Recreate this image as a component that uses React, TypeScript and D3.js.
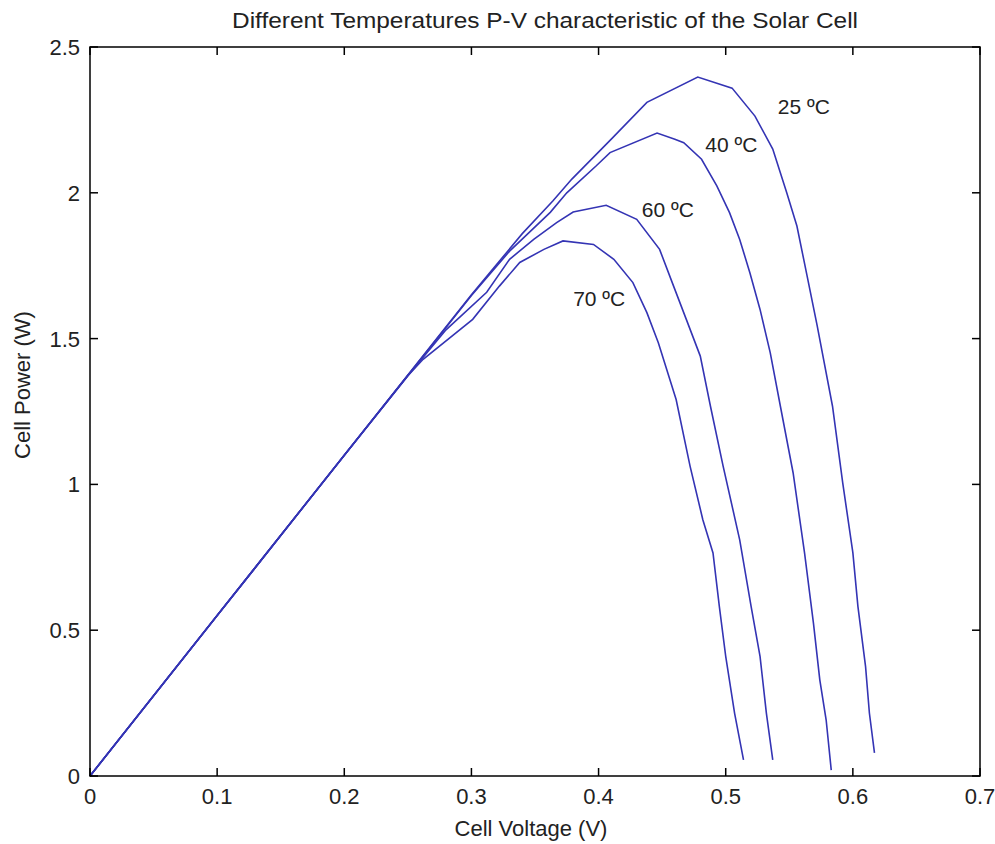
import React from "react";
import * as d3 from "d3";

const xTicks = [0, 0.1, 0.2, 0.3, 0.4, 0.5, 0.6, 0.7];
const yTicks = [0, 0.5, 1, 1.5, 2, 2.5];
const xTickLabels = ["0", "0.1", "0.2", "0.3", "0.4", "0.5", "0.6", "0.7"];
const yTickLabels = ["0", "0.5", "1", "1.5", "2", "2.5"];

const v25 = [0, 0.1, 0.2, 0.3, 0.34, 0.364, 0.379, 0.41, 0.438, 0.478, 0.505, 0.523, 0.537, 0.548, 0.556, 0.564, 0.572, 0.584, 0.592, 0.6, 0.604, 0.61, 0.613, 0.617];
const p25 = [0, 0.55, 1.1, 1.65, 1.86, 1.972, 2.047, 2.184, 2.31, 2.397, 2.359, 2.263, 2.15, 2.0, 1.886, 1.715, 1.543, 1.268, 1.006, 0.766, 0.581, 0.375, 0.216, 0.079];

const v40 = [0, 0.1, 0.2, 0.3, 0.33, 0.362, 0.375, 0.398, 0.409, 0.446, 0.46, 0.467, 0.481, 0.493, 0.503, 0.511, 0.519, 0.527, 0.535, 0.543, 0.553, 0.562, 0.569, 0.574, 0.579, 0.583];
const p40 = [0, 0.55, 1.1, 1.648, 1.8, 1.933, 2.0, 2.092, 2.138, 2.205, 2.184, 2.172, 2.115, 2.024, 1.932, 1.84, 1.726, 1.6, 1.452, 1.268, 1.04, 0.765, 0.524, 0.33, 0.192, 0.02];

const v60 = [0, 0.1, 0.2, 0.25, 0.28, 0.312, 0.33, 0.349, 0.367, 0.38, 0.406, 0.43, 0.448, 0.459, 0.469, 0.48, 0.488, 0.498, 0.511, 0.52, 0.527, 0.532, 0.537];
const p60 = [0, 0.55, 1.1, 1.373, 1.53, 1.659, 1.772, 1.84, 1.898, 1.934, 1.957, 1.909, 1.806, 1.68, 1.566, 1.44, 1.268, 1.062, 0.81, 0.581, 0.41, 0.215, 0.055];

const v70 = [0, 0.1, 0.2, 0.25, 0.262, 0.301, 0.322, 0.338, 0.357, 0.372, 0.396, 0.412, 0.427, 0.438, 0.447, 0.461, 0.472, 0.482, 0.49, 0.495, 0.5, 0.507, 0.514];
const p70 = [0, 0.55, 1.1, 1.373, 1.429, 1.566, 1.68, 1.761, 1.806, 1.835, 1.823, 1.772, 1.692, 1.589, 1.486, 1.291, 1.062, 0.879, 0.765, 0.581, 0.41, 0.215, 0.055];

const seriesNames = ["25 ºC", "40 ºC", "60 ºC", "70 ºC"];
const seriesV = [v25, v40, v60, v70];
const seriesP = [p25, p40, p60, p70];
// label anchor positions (baseline-left) in data units
const labelV = [0.541, 0.484, 0.434, 0.380];
const labelP = [2.27, 2.139, 1.916, 1.611];

const W = 995, H = 844;
const M = { left: 90, right: 980, top: 47, bottom: 776 };
const FONT = "'Liberation Sans', Arial, sans-serif";
const TEXT = "#222";

export default function App() {
  const x = d3.scaleLinear().domain([0, 0.7]).range([M.left, M.right]);
  const y = d3.scaleLinear().domain([0, 2.5]).range([M.bottom, M.top]);
  const line = d3.line<[number, number]>().x(d => x(d[0])).y(d => y(d[1]));
  const tl = 8;
  return (
    <svg width={W} height={H} style={{ position: "absolute", left: 0, top: 0, background: "#fff" }} fontFamily={FONT}>
      <rect x={0} y={0} width={W} height={H} fill="#fff" />
      {seriesV.map((vs, i) => (
        <path key={i} d={line(vs.map((v, j) => [v, seriesP[i][j]] as [number, number])) || ""} fill="none" stroke="#3434b4" strokeWidth={1.6} />
      ))}
      <rect x={M.left} y={M.top} width={M.right - M.left} height={M.bottom - M.top} fill="none" stroke="#000" strokeWidth={1.5} />
      {xTicks.map((t, i) => (
        <g key={"x" + i}>
          <line x1={x(t)} x2={x(t)} y1={M.bottom} y2={M.bottom - tl} stroke="#000" strokeWidth={1.5} />
          <line x1={x(t)} x2={x(t)} y1={M.top} y2={M.top + tl} stroke="#000" strokeWidth={1.5} />
          <text x={x(t)} y={804} textAnchor="middle" fontSize={22} fill={TEXT}>{xTickLabels[i]}</text>
        </g>
      ))}
      {yTicks.map((t, i) => (
        <g key={"y" + i}>
          <line x1={M.left} x2={M.left + tl} y1={y(t)} y2={y(t)} stroke="#000" strokeWidth={1.5} />
          <line x1={M.right} x2={M.right - tl} y1={y(t)} y2={y(t)} stroke="#000" strokeWidth={1.5} />
          <text x={80} y={y(t) + 8} textAnchor="end" fontSize={22} fill={TEXT}>{yTickLabels[i]}</text>
        </g>
      ))}
      {seriesNames.map((n, i) => (
        <text key={"l" + i} x={x(labelV[i])} y={y(labelP[i])} fontSize={21} fill={TEXT}>{n}</text>
      ))}
      <text x={545} y={28} textAnchor="middle" fontSize={22} textLength={626} lengthAdjust="spacingAndGlyphs" fill={TEXT}>Different Temperatures P-V characteristic of the Solar Cell</text>
      <text x={531} y={836} textAnchor="middle" fontSize={22} fill={TEXT}>Cell Voltage (V)</text>
      <text transform={`translate(30, 385) rotate(-90)`} textAnchor="middle" fontSize={22} fill={TEXT}>Cell Power (W)</text>
    </svg>
  );
}
